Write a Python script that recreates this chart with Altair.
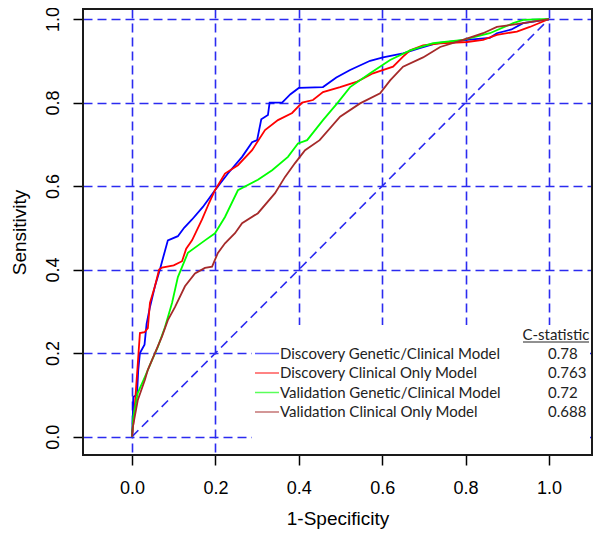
import altair as alt
import pandas as pd

# ---- data ----
model_names = [
    "Discovery Genetic/Clinical Model",
    "Discovery Clinical Only Model",
    "Validation Genetic/Clinical Model",
    "Validation Clinical Only Model",
]
c_stats = ["0.78", "0.763", "0.72", "0.688"]
line_colors = ["#0000FF", "#FF0000", "#00FF00", "#A52A2A"]
tick_values = [0.0, 0.2, 0.4, 0.6, 0.8, 1.0]
diag_x = [0.0, 1.0]
diag_y = [0.0, 1.0]

blue_x = [0, 0.002, 0.003, 0.012, 0.015, 0.019, 0.03, 0.035, 0.043, 0.055, 0.067, 0.075, 0.086, 0.11, 0.125,
          0.144, 0.17, 0.199, 0.23, 0.264, 0.288, 0.30, 0.31, 0.326, 0.33, 0.36, 0.38, 0.40, 0.458, 0.49, 0.523,
          0.571, 0.602, 0.65, 0.69, 0.731, 0.803, 0.858, 0.875, 0.91, 0.938, 0.97, 1.0]
blue_y = [0, 0.05, 0.095, 0.10, 0.16, 0.20, 0.22, 0.27, 0.31, 0.36, 0.40, 0.43, 0.47, 0.48, 0.50,
          0.52, 0.55, 0.59, 0.63, 0.67, 0.705, 0.71, 0.76, 0.77, 0.80, 0.80, 0.82, 0.835, 0.837, 0.86, 0.878,
          0.90, 0.908, 0.918, 0.93, 0.942, 0.95, 0.955, 0.966, 0.975, 0.99, 0.995, 1.0]

red_x = [0, 0.005, 0.01, 0.014, 0.019, 0.03, 0.038, 0.043, 0.055, 0.065, 0.072, 0.10, 0.12, 0.13, 0.144,
         0.168, 0.185, 0.199, 0.223, 0.254, 0.288, 0.319, 0.35, 0.384, 0.408, 0.434, 0.458, 0.499, 0.54,
         0.578, 0.626, 0.65, 0.667, 0.698, 0.739, 0.803, 0.842, 0.875, 0.923, 0.954, 1.0]
red_y = [0, 0.05, 0.12, 0.176, 0.248, 0.25, 0.26, 0.32, 0.36, 0.40, 0.405, 0.41, 0.42, 0.45, 0.47,
         0.52, 0.56, 0.59, 0.63, 0.65, 0.686, 0.734, 0.758, 0.775, 0.80, 0.806, 0.825, 0.837, 0.85,
         0.87, 0.886, 0.91, 0.925, 0.937, 0.942, 0.945, 0.95, 0.962, 0.97, 0.981, 1.0]

green_x = [0, 0.003, 0.014, 0.031, 0.048, 0.062, 0.079, 0.096, 0.11, 0.134, 0.175, 0.199, 0.223, 0.254,
           0.302, 0.336, 0.374, 0.398, 0.42, 0.458, 0.492, 0.523, 0.571, 0.619, 0.667, 0.722, 0.794,
           0.858, 0.914, 0.938, 1.0]
green_y = [0, 0.047, 0.105, 0.143, 0.183, 0.215, 0.262, 0.32, 0.382, 0.44, 0.47, 0.487, 0.526, 0.59,
           0.615, 0.638, 0.67, 0.702, 0.71, 0.758, 0.798, 0.837, 0.87, 0.902, 0.925, 0.942, 0.95,
           0.966, 0.99, 0.998, 1.0]

brown_x = [0, 0.002, 0.014, 0.031, 0.038, 0.055, 0.072, 0.086, 0.103, 0.127, 0.151, 0.175, 0.192, 0.206,
           0.223, 0.247, 0.264, 0.302, 0.343, 0.367, 0.391, 0.415, 0.45, 0.499, 0.547, 0.595, 0.619, 0.65,
           0.698, 0.739, 0.794, 0.842, 0.875, 0.938, 1.0]
brown_y = [0, 0.023, 0.088, 0.136, 0.16, 0.20, 0.24, 0.279, 0.31, 0.36, 0.391, 0.404, 0.407, 0.44,
           0.463, 0.487, 0.511, 0.535, 0.583, 0.622, 0.655, 0.686, 0.71, 0.766, 0.798, 0.822, 0.853, 0.886,
           0.908, 0.933, 0.95, 0.966, 0.981, 0.99, 1.0]

# ---- tables ----
rows = []
for name, xs, ys in zip(model_names, [blue_x, red_x, green_x, brown_x], [blue_y, red_y, green_y, brown_y]):
    for i, (a, b) in enumerate(zip(xs, ys)):
        rows.append({"model": name, "fpr": a, "tpr": b, "order": i})
curves = pd.DataFrame(rows)
diag = pd.DataFrame({"fpr": diag_x, "tpr": diag_y})

# legend layout (pixel positions inside the plot area)
row0, row_step = 344.5, 19.5
legend_df = pd.DataFrame({
    "model": model_names,
    "cstat": c_stats,
    "py": [row0 + i * row_step for i in range(len(model_names))],
})

FONT = "Liberation Sans"
LFONT = "Lato"
GRID_BLUE = "#2b2bf0"
W, H = 509, 446

xscale = alt.Scale(domain=[-0.1175, 1.1031], nice=False, zero=False)
yscale = alt.Scale(domain=[-0.044, 1.024], nice=False, zero=False)

common_axis = dict(values=tick_values, format=".1f", grid=True, gridColor=GRID_BLUE,
                   gridDash=[9, 5], gridWidth=1.6, gridOpacity=1, domain=False,
                   tickColor="black", tickSize=10, tickWidth=1.5, labelFont=FONT,
                   labelFontSize=18, labelColor="black", titleFont=FONT,
                   titleFontWeight="normal", titleColor="black")
xaxis = alt.Axis(title="1-Specificity", labelPadding=14, titleFontSize=19, titlePadding=12,
                 labelFlush=False, **common_axis)
yaxis = alt.Axis(title="Sensitivity", labelAngle=270, labelAlign="center", labelBaseline="bottom",
                 labelPadding=11, titleFontSize=19, titlePadding=15, labelFlush=False, **common_axis)

diag_layer = alt.Chart(diag).mark_line(color=GRID_BLUE, strokeDash=[9, 5], strokeWidth=1.6).encode(
    x=alt.X("fpr:Q", scale=xscale, axis=xaxis),
    y=alt.Y("tpr:Q", scale=yscale, axis=yaxis),
)

curve_layer = alt.Chart(curves).mark_line(strokeWidth=1.8).encode(
    x=alt.X("fpr:Q", scale=xscale, axis=xaxis),
    y=alt.Y("tpr:Q", scale=yscale, axis=yaxis),
    color=alt.Color("model:N", scale=alt.Scale(domain=model_names, range=line_colors), legend=None),
    order="order:Q",
)

overlay = alt.Chart(legend_df).mark_rect(color="white", opacity=0.82).encode(
    x=alt.value(169), x2=alt.value(W - 2), y=alt.value(316), y2=alt.value(H - 2)
)

legend_lines = alt.Chart(legend_df).mark_rule(strokeWidth=1.5, opacity=0.65).encode(
    x=alt.value(172), x2=alt.value(196),
    y=alt.Y("py:Q", scale=None),
    color=alt.Color("model:N", scale=alt.Scale(domain=model_names, range=line_colors), legend=None),
)

legend_text = alt.Chart(legend_df).mark_text(align="left", baseline="middle", font=LFONT,
                                             fontSize=15, color="#222222").encode(
    x=alt.value(197), y=alt.Y("py:Q", scale=None), text="model:N"
)

cstat_text = alt.Chart(legend_df).mark_text(align="left", baseline="middle", font=LFONT,
                                            fontSize=15, color="#222222").encode(
    x=alt.value(465), y=alt.Y("py:Q", scale=None), text="cstat:N"
)

header = alt.Chart(pd.DataFrame({"t": ["C-statistic"]})).mark_text(
    align="center", baseline="middle", font=LFONT, fontSize=15, color="#222222").encode(
    x=alt.value(473), y=alt.value(326), text="t:N"
)
underline = alt.Chart(pd.DataFrame({"t": ["C-statistic"]})).mark_rule(color="#222222", strokeWidth=1).encode(
    x=alt.value(440), x2=alt.value(506), y=alt.value(333)
)

border = pd.DataFrame({"t": ["frame"]})
frame = alt.Chart(border).mark_rect(
    color="white", fillOpacity=0, stroke="#1a1a1a", strokeWidth=2, strokeOpacity=1).encode(
    x=alt.value(0), x2=alt.value(W), y=alt.value(0), y2=alt.value(H)
)

chart = alt.layer(diag_layer, curve_layer, overlay, legend_lines, legend_text, cstat_text,
                  header, underline, frame).properties(
    width=W, height=H,
    autosize=alt.AutoSizeParams(type="none"),
    padding={"left": 75, "top": 1, "right": 1, "bottom": 79},
).configure_view(stroke="#1a1a1a", strokeWidth=2)

chart.save("out.html", embed_options={"renderer": "svg", "actions": False})
